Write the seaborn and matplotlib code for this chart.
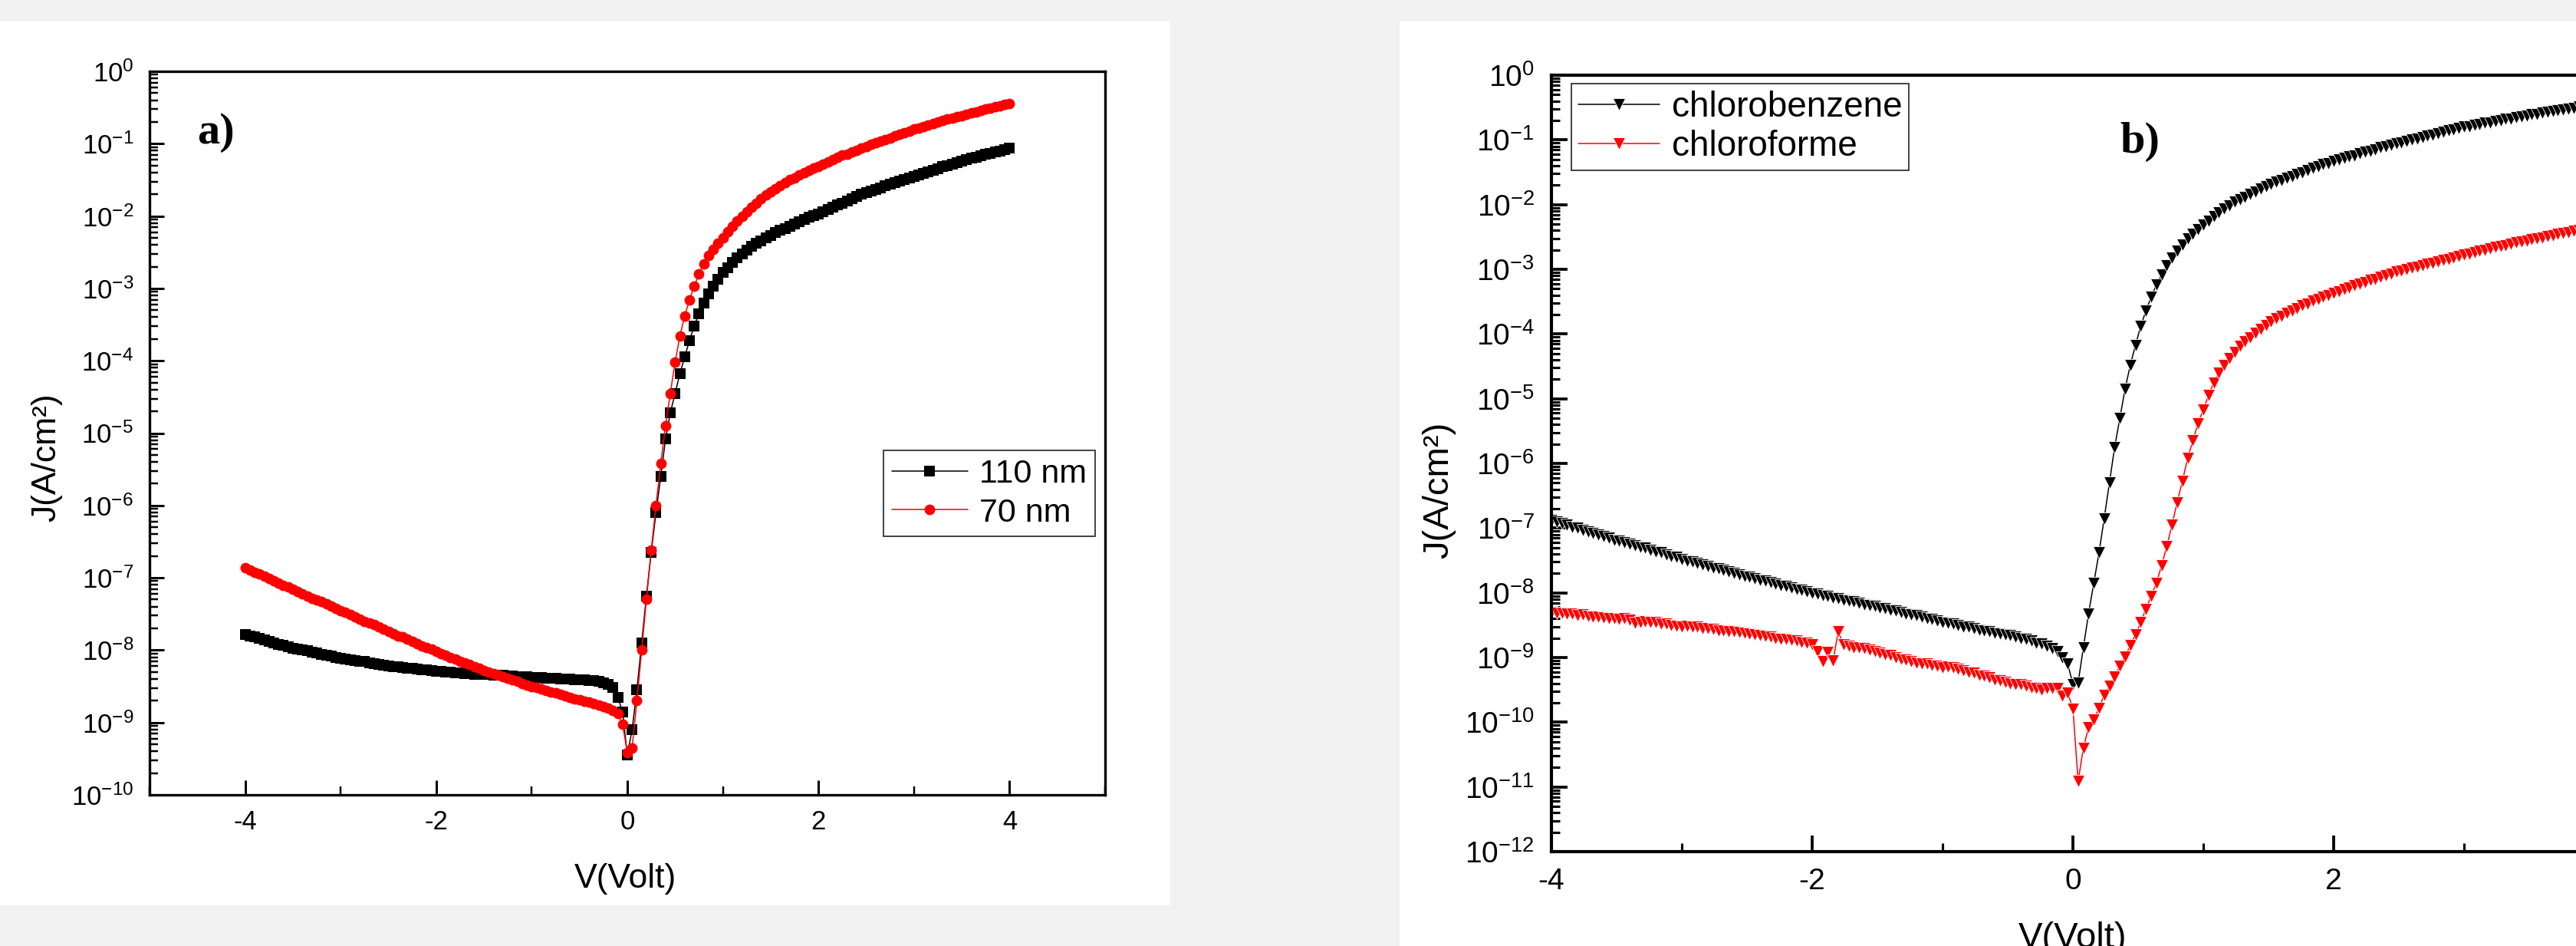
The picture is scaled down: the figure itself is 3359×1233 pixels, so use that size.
import numpy as np
import matplotlib
matplotlib.use("Agg")
import matplotlib.pyplot as plt
from matplotlib.patches import Rectangle
from matplotlib.ticker import LogLocator, FuncFormatter, NullFormatter, MultipleLocator
import seaborn as sns

# ---------------------------------------------------------------------------
# (a) J-V curves for two active-layer thicknesses, voltage sweep -4 V .. 4 V
# in 0.05 V steps.  Current densities are stored as log10(J / A cm^-2).
# ---------------------------------------------------------------------------
voltage_a = np.round(np.linspace(-4.0, 4.0, 161), 2)

log_j_110nm = [
    -7.78, -7.80, -7.82, -7.84, -7.86, -7.88, -7.90, -7.92, -7.93, -7.95,
    -7.97, -7.98, -8.00, -8.01, -8.03, -8.04, -8.06, -8.07, -8.08, -8.10,
    -8.11, -8.12, -8.13, -8.14, -8.15, -8.16, -8.18, -8.19, -8.20, -8.21,
    -8.22, -8.23, -8.23, -8.24, -8.25, -8.25, -8.26, -8.27, -8.27, -8.28,
    -8.29, -8.29, -8.30, -8.30, -8.31, -8.31, -8.32, -8.32, -8.33, -8.33,
    -8.34, -8.34, -8.35, -8.35, -8.35, -8.36, -8.36, -8.37, -8.37, -8.37,
    -8.38, -8.38, -8.38, -8.39, -8.39, -8.39, -8.40, -8.40, -8.40, -8.41,
    -8.41, -8.41, -8.42, -8.42, -8.43, -8.45, -8.47, -8.52, -8.65, -8.85,
    -9.45, -9.10, -8.55, -7.90, -7.25, -6.65, -6.10, -5.60, -5.08, -4.72,
    -4.45, -4.18, -3.95, -3.72, -3.52, -3.35, -3.20, -3.08, -2.97, -2.87,
    -2.78, -2.71, -2.64, -2.58, -2.52, -2.47, -2.42, -2.38, -2.34, -2.30,
    -2.27, -2.23, -2.20, -2.17, -2.14, -2.11, -2.08, -2.05, -2.02, -1.99,
    -1.97, -1.94, -1.91, -1.88, -1.85, -1.82, -1.79, -1.76, -1.73, -1.70,
    -1.68, -1.65, -1.63, -1.61, -1.58, -1.56, -1.54, -1.52, -1.49, -1.47,
    -1.45, -1.43, -1.41, -1.39, -1.37, -1.35, -1.32, -1.30, -1.28, -1.26,
    -1.24, -1.22, -1.20, -1.19, -1.17, -1.15, -1.13, -1.11, -1.10, -1.08,
    -1.06,
]

log_j_70nm = [
    -6.86, -6.89, -6.92, -6.95, -6.98, -7.01, -7.04, -7.07, -7.10, -7.13,
    -7.16, -7.19, -7.22, -7.25, -7.28, -7.31, -7.33, -7.36, -7.39, -7.42,
    -7.45, -7.48, -7.51, -7.54, -7.57, -7.60, -7.62, -7.65, -7.68, -7.71,
    -7.74, -7.77, -7.80, -7.82, -7.85, -7.88, -7.91, -7.94, -7.96, -7.99,
    -8.02, -8.05, -8.07, -8.10, -8.12, -8.15, -8.18, -8.20, -8.23, -8.25,
    -8.28, -8.30, -8.32, -8.35, -8.37, -8.39, -8.41, -8.43, -8.46, -8.48,
    -8.50, -8.52, -8.54, -8.56, -8.58, -8.59, -8.61, -8.63, -8.65, -8.67,
    -8.69, -8.71, -8.72, -8.74, -8.76, -8.78, -8.80, -8.83, -8.88, -9.02,
    -9.42, -9.35, -8.70, -8.00, -7.30, -6.62, -6.00, -5.42, -4.90, -4.45,
    -4.02, -3.66, -3.38, -3.16, -2.97, -2.80, -2.66, -2.55, -2.46, -2.38,
    -2.30, -2.22, -2.14, -2.07, -2.00, -1.94, -1.88, -1.82, -1.76, -1.71,
    -1.66, -1.62, -1.58, -1.54, -1.50, -1.47, -1.43, -1.40, -1.37, -1.34,
    -1.31, -1.28, -1.25, -1.22, -1.19, -1.16, -1.14, -1.11, -1.09, -1.06,
    -1.04, -1.01, -0.99, -0.96, -0.94, -0.92, -0.89, -0.87, -0.85, -0.83,
    -0.80, -0.78, -0.76, -0.74, -0.72, -0.70, -0.68, -0.66, -0.65, -0.63,
    -0.61, -0.59, -0.57, -0.56, -0.54, -0.52, -0.51, -0.49, -0.48, -0.46,
    -0.45,
]

# ---------------------------------------------------------------------------
# (b) J-V curves for two casting solvents, sweep -4 V .. 4 V in 0.04 V steps.
# ---------------------------------------------------------------------------
voltage_b = np.round(np.linspace(-4.0, 4.0, 201), 2)

log_j_chlorobenzene = [
    -6.88, -6.90, -6.93, -6.95, -6.98, -7.00, -7.03, -7.05, -7.08, -7.10,
    -7.13, -7.15, -7.18, -7.20, -7.22, -7.25, -7.27, -7.29, -7.31, -7.34,
    -7.36, -7.38, -7.41, -7.43, -7.45, -7.48, -7.50, -7.52, -7.54, -7.57,
    -7.59, -7.61, -7.63, -7.65, -7.67, -7.70, -7.72, -7.74, -7.76, -7.78,
    -7.80, -7.82, -7.84, -7.86, -7.88, -7.90, -7.92, -7.94, -7.96, -7.98,
    -8.00, -8.02, -8.04, -8.05, -8.07, -8.09, -8.11, -8.12, -8.14, -8.16,
    -8.18, -8.19, -8.21, -8.23, -8.24, -8.26, -8.28, -8.30, -8.32, -8.34,
    -8.35, -8.37, -8.39, -8.41, -8.43, -8.45, -8.47, -8.48, -8.50, -8.52,
    -8.53, -8.55, -8.57, -8.58, -8.60, -8.62, -8.63, -8.65, -8.66, -8.68,
    -8.70, -8.72, -8.74, -8.77, -8.79, -8.82, -8.86, -8.91, -9.00, -9.10,
    -9.41, -9.39, -8.85, -8.32, -7.85, -7.38, -6.85, -6.30, -5.75, -5.30,
    -4.85, -4.48, -4.17, -3.88, -3.64, -3.43, -3.24, -3.08, -2.94, -2.82,
    -2.71, -2.62, -2.53, -2.46, -2.38, -2.31, -2.25, -2.18, -2.12, -2.06,
    -2.01, -1.96, -1.92, -1.88, -1.84, -1.80, -1.76, -1.72, -1.68, -1.65,
    -1.62, -1.59, -1.56, -1.53, -1.50, -1.47, -1.44, -1.41, -1.38, -1.36,
    -1.33, -1.31, -1.28, -1.26, -1.24, -1.21, -1.19, -1.17, -1.15, -1.12,
    -1.10, -1.08, -1.06, -1.04, -1.02, -1.00, -0.98, -0.96, -0.94, -0.92,
    -0.90, -0.88, -0.85, -0.84, -0.82, -0.80, -0.79, -0.77, -0.76, -0.74,
    -0.73, -0.71, -0.70, -0.68, -0.67, -0.65, -0.64, -0.63, -0.61, -0.60,
    -0.58, -0.57, -0.56, -0.54, -0.53, -0.52, -0.51, -0.49, -0.48, -0.47,
    -0.46,
]

log_j_chloroforme = [
    -8.30, -8.31, -8.31, -8.33, -8.33, -8.35, -8.34, -8.36, -8.37, -8.37,
    -8.38, -8.40, -8.40, -8.41, -8.40, -8.42, -8.47, -8.45, -8.44, -8.45,
    -8.46, -8.48, -8.48, -8.50, -8.51, -8.52, -8.51, -8.52, -8.53, -8.55,
    -8.55, -8.56, -8.58, -8.58, -8.60, -8.60, -8.61, -8.62, -8.63, -8.64,
    -8.66, -8.67, -8.68, -8.70, -8.71, -8.72, -8.73, -8.74, -8.76, -8.77,
    -8.80, -8.90, -9.06, -8.92, -9.05, -8.60, -8.80, -8.82, -8.84, -8.85,
    -8.86, -8.88, -8.90, -8.93, -8.95, -8.97, -9.00, -9.02, -9.04, -9.06,
    -9.08, -9.09, -9.10, -9.12, -9.13, -9.15, -9.14, -9.16, -9.18, -9.20,
    -9.22, -9.24, -9.27, -9.29, -9.31, -9.34, -9.36, -9.38, -9.40, -9.41,
    -9.42, -9.44, -9.46, -9.48, -9.50, -9.47, -9.48, -9.47, -9.59, -9.55,
    -9.79, -10.91, -10.40, -10.08, -9.96, -9.78, -9.58, -9.44, -9.30, -9.13,
    -8.99, -8.81, -8.64, -8.46, -8.25, -8.05, -7.85, -7.58, -7.28, -6.95,
    -6.60, -6.27, -5.92, -5.65, -5.38, -5.17, -4.95, -4.75, -4.60, -4.48,
    -4.38, -4.28, -4.19, -4.12, -4.05, -3.98, -3.92, -3.86, -3.81, -3.76,
    -3.72, -3.68, -3.64, -3.60, -3.56, -3.53, -3.49, -3.46, -3.43, -3.40,
    -3.37, -3.34, -3.31, -3.28, -3.25, -3.23, -3.20, -3.17, -3.15, -3.12,
    -3.10, -3.07, -3.04, -3.02, -3.00, -2.98, -2.96, -2.94, -2.92, -2.90,
    -2.88, -2.86, -2.84, -2.82, -2.80, -2.78, -2.76, -2.74, -2.72, -2.70,
    -2.68, -2.66, -2.65, -2.63, -2.61, -2.59, -2.57, -2.56, -2.54, -2.52,
    -2.51, -2.49, -2.48, -2.46, -2.44, -2.43, -2.41, -2.40, -2.38, -2.37,
    -2.35,
]

x_ticks = [-4, -2, 0, 2, 4]
x_label = "V(Volt)"
y_label = "J(A/cm²)"

# ---------------------------------------------------------------------------
sns.set_style("white")
plt.rcParams.update({
    "font.family": ["Liberation Sans", "DejaVu Sans"],
    "mathtext.fontset": "custom",
    "mathtext.rm": "Liberation Sans",
    "mathtext.it": "Liberation Sans:italic",
    "mathtext.bf": "Liberation Sans:bold",
    "axes.unicode_minus": False,
    "text.color": "black",
    "axes.labelcolor": "black",
    "axes.edgecolor": "black",
    "xtick.color": "black",
    "ytick.color": "black",
})

W, H = 3359, 1233
fig = plt.figure(figsize=(W / 100, H / 100), dpi=100, facecolor="#f2f2f2")


def px_rect(x0, y0, x1, y1):
    """Pixel box (top-left origin) -> figure-fraction rect."""
    return [x0 / W, 1 - y1 / H, (x1 - x0) / W, (y1 - y0) / H]


# white sheets behind each panel
for x0, y0, x1, y1 in [(0, 28, 1526, 1180), (1825, 28, W, H)]:
    r = px_rect(x0, y0, x1, y1)
    fig.patches.append(Rectangle((r[0], r[1]), r[2], r[3], transform=fig.transFigure,
                                 facecolor="white", edgecolor="none", zorder=-10))

ax_a = fig.add_axes(px_rect(195, 93, 1441, 1036))
ax_b = fig.add_axes(px_rect(2023, 98, 2023 + 170 * 8.5, 1110))

log_fmt = FuncFormatter(lambda y, pos: r"$\mathregular{10^{%d}}$" % int(round(np.log10(y))))


def style(ax, tick_fs, spine_w, maj_len, min_len, pad_x, pad_y):
    ax.set_facecolor("white")
    ax.set_yscale("log")
    for s in ax.spines.values():
        s.set_visible(True)
        s.set_linewidth(spine_w)
        s.set_color("black")
    ax.yaxis.set_major_locator(LogLocator(base=10, numticks=30))
    ax.yaxis.set_minor_locator(LogLocator(base=10, subs=np.arange(2, 10), numticks=300))
    ax.yaxis.set_major_formatter(log_fmt)
    ax.yaxis.set_minor_formatter(NullFormatter())
    ax.set_xticks(x_ticks)
    ax.xaxis.set_minor_locator(MultipleLocator(1))
    ax.tick_params(which="both", direction="in", bottom=True, left=True,
                   top=False, right=False, colors="black")
    ax.tick_params(which="major", length=maj_len, width=spine_w * 0.9, labelsize=tick_fs)
    ax.tick_params(which="minor", length=min_len, width=spine_w * 0.75)
    ax.tick_params(axis="x", which="major", pad=pad_x)
    ax.tick_params(axis="y", which="major", pad=pad_y)


# ---------------- panel (a) ----------------
sns.lineplot(x=voltage_a, y=10 ** np.array(log_j_110nm), ax=ax_a, color="black",
             marker="s", markersize=9.5, markeredgewidth=0, linewidth=1.1,
             label="110 nm", sort=False, errorbar=None)
sns.lineplot(x=voltage_a, y=10 ** np.array(log_j_70nm), ax=ax_a, color="red",
             marker="o", markersize=10, markeredgewidth=0, linewidth=1.1,
             label="70 nm", sort=False, errorbar=None)
style(ax_a, 25, 2.4, 14, 8, 14, 15)
ax_a.set_xlim(-5, 5)
ax_a.set_ylim(1e-10, 1)
ax_a.set_xlabel(x_label, fontsize=32)
ax_a.set_ylabel(y_label, fontsize=32)
ax_a.xaxis.set_label_coords(0.498, -0.1156)
ax_a.xaxis.label.set_va("center")
ax_a.yaxis.set_label_coords(-0.1075, 0.4666)
ax_a.yaxis.label.set_va("center")
ax_a.yaxis.label.set_ha("center")
ax_a.text(281 / W, 1 - 173 / H, "a)", transform=fig.transFigure, ha="center", va="center",
          fontsize=42, fontweight="bold", family="Liberation Serif")
leg_a = ax_a.legend(loc="upper left", bbox_to_anchor=(1152 / W, 1 - 587 / H),
                    bbox_transform=fig.transFigure, fontsize=31, frameon=True,
                    fancybox=False, framealpha=1, edgecolor="#333333",
                    borderaxespad=0, borderpad=0.25, handlelength=2.3,
                    handletextpad=0.35, labelspacing=0.25, numpoints=1)
leg_a.get_frame().set_linewidth(1.3)

# ---------------- panel (b) ----------------
sns.lineplot(x=voltage_b, y=10 ** np.array(log_j_chlorobenzene), ax=ax_b, color="black",
             marker="v", markersize=12, markeredgewidth=0.6, linewidth=1.1,
             label="chlorobenzene", sort=False, errorbar=None)
sns.lineplot(x=voltage_b, y=10 ** np.array(log_j_chloroforme), ax=ax_b, color="red",
             marker="v", markersize=12, markeredgewidth=0.6, linewidth=1.1,
             label="chloroforme", sort=False, errorbar=None)
style(ax_b, 28, 3.0, 15, 7.7, 15, 16)
ax_b.set_xlim(-4, 4.5)
ax_b.set_ylim(1e-12, 1)
ax_b.set_xlabel(x_label, fontsize=34)
ax_b.set_ylabel(y_label, fontsize=34)
ax_b.xaxis.set_label_coords(4 / 8.5, (1110 - 1223) / 1012)
ax_b.xaxis.label.set_va("center")
ax_b.yaxis.set_label_coords((1876 - 2023) / (170 * 8.5), 0.466)
ax_b.yaxis.label.set_va("center")
ax_b.yaxis.label.set_ha("center")
ax_b.text(2790 / W, 1 - 185 / H, "b)", transform=fig.transFigure, ha="center", va="center",
          fontsize=42, fontweight="bold", family="Liberation Serif")
leg_b = ax_b.legend(loc="upper left", bbox_to_anchor=(2049 / W, 1 - 109 / H),
                    bbox_transform=fig.transFigure, fontsize=33, frameon=True,
                    fancybox=False, framealpha=1, edgecolor="#333333",
                    borderaxespad=0, borderpad=0.2, handlelength=2.3,
                    handletextpad=0.35, labelspacing=0.15, numpoints=1)
leg_b.get_frame().set_linewidth(1.3)

fig.savefig("out.png", dpi=100, facecolor=fig.get_facecolor())
